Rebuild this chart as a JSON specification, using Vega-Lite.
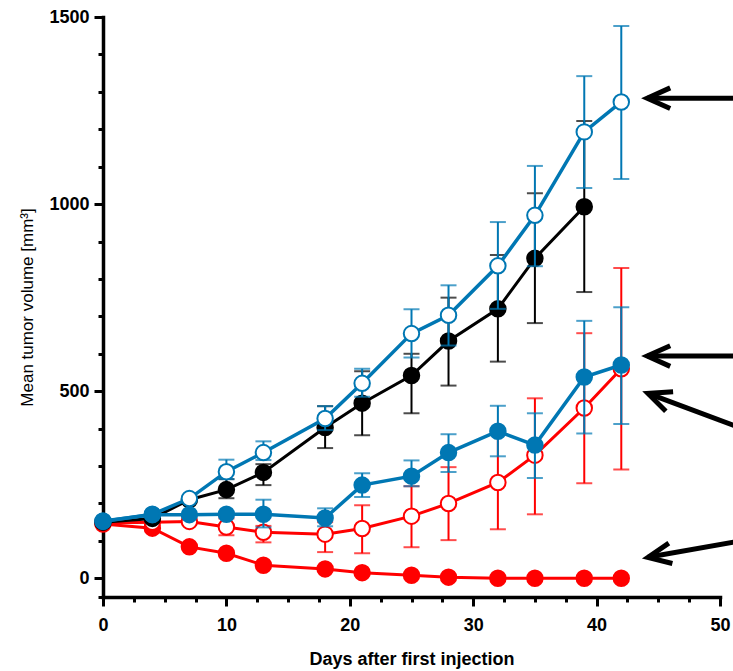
{
  "$schema": "https://vega.github.io/schema/vega-lite/v6.json",
  "width": 617,
  "height": 580,
  "autosize": {"type": "none"},
  "padding": {"left": 103, "top": 17, "right": 13, "bottom": 74},
  "config": {
    "view": {"stroke": null},
    "font": "Liberation Sans",
    "axis": {"grid": false, "domainColor": "black", "tickColor": "black", "labelColor": "black", "titleColor": "black", "labelFont": "Liberation Sans", "titleFont": "Liberation Sans"}
  },
  "datasets": {
    "d": [
      {"s": "RF", "day": 0, "mean": 145},
      {"s": "RF", "day": 4, "mean": 134},
      {"s": "RF", "day": 7, "mean": 84},
      {"s": "RF", "day": 10, "mean": 67},
      {"s": "RF", "day": 13, "mean": 35},
      {"s": "RF", "day": 18, "mean": 25},
      {"s": "RF", "day": 21, "mean": 15},
      {"s": "RF", "day": 25, "mean": 8},
      {"s": "RF", "day": 28, "mean": 3},
      {"s": "RF", "day": 32, "mean": 0},
      {"s": "RF", "day": 35, "mean": 0},
      {"s": "RF", "day": 39, "mean": 0},
      {"s": "RF", "day": 42, "mean": 0},
      {"s": "RO", "day": 0, "mean": 148},
      {"s": "RO", "day": 4, "mean": 150},
      {"s": "RO", "day": 7, "mean": 152},
      {"s": "RO", "day": 10, "mean": 137, "lo": 115, "hi": 160},
      {"s": "RO", "day": 13, "mean": 123, "lo": 96, "hi": 140},
      {"s": "RO", "day": 18, "mean": 118, "lo": 70, "hi": 150},
      {"s": "RO", "day": 21, "mean": 133, "lo": 67, "hi": 195},
      {"s": "RO", "day": 25, "mean": 166, "lo": 83, "hi": 246},
      {"s": "RO", "day": 28, "mean": 200, "lo": 102, "hi": 297},
      {"s": "RO", "day": 32, "mean": 256, "lo": 131, "hi": 385},
      {"s": "RO", "day": 35, "mean": 329, "lo": 171, "hi": 481},
      {"s": "RO", "day": 39, "mean": 455, "lo": 254, "hi": 655},
      {"s": "RO", "day": 42, "mean": 560, "lo": 291, "hi": 829},
      {"s": "K", "day": 0, "mean": 150},
      {"s": "K", "day": 4, "mean": 160},
      {"s": "K", "day": 7, "mean": 210},
      {"s": "K", "day": 10, "mean": 237, "lo": 214, "hi": 265},
      {"s": "K", "day": 13, "mean": 283, "lo": 249, "hi": 305},
      {"s": "K", "day": 18, "mean": 403, "lo": 348, "hi": 460},
      {"s": "K", "day": 21, "mean": 468, "lo": 382, "hi": 553},
      {"s": "K", "day": 25, "mean": 542, "lo": 441, "hi": 600},
      {"s": "K", "day": 28, "mean": 634, "lo": 515, "hi": 750},
      {"s": "K", "day": 32, "mean": 720, "lo": 579, "hi": 864},
      {"s": "K", "day": 35, "mean": 855, "lo": 682, "hi": 1029},
      {"s": "K", "day": 39, "mean": 993, "lo": 765, "hi": 1222},
      {"s": "BO", "day": 0, "mean": 152},
      {"s": "BO", "day": 4, "mean": 171},
      {"s": "BO", "day": 7, "mean": 213},
      {"s": "BO", "day": 10, "mean": 285, "lo": 265, "hi": 317},
      {"s": "BO", "day": 13, "mean": 336, "lo": 316, "hi": 366},
      {"s": "BO", "day": 18, "mean": 427, "lo": 396, "hi": 460},
      {"s": "BO", "day": 21, "mean": 521, "lo": 485, "hi": 560},
      {"s": "BO", "day": 25, "mean": 654, "lo": 590, "hi": 719},
      {"s": "BO", "day": 28, "mean": 703, "lo": 622, "hi": 783},
      {"s": "BO", "day": 32, "mean": 835, "lo": 720, "hi": 952},
      {"s": "BO", "day": 35, "mean": 970, "lo": 834, "hi": 1102},
      {"s": "BO", "day": 39, "mean": 1193, "lo": 1043, "hi": 1342},
      {"s": "BO", "day": 42, "mean": 1273, "lo": 1067, "hi": 1476},
      {"s": "BF", "day": 0, "mean": 153},
      {"s": "BF", "day": 4, "mean": 170},
      {"s": "BF", "day": 7, "mean": 170},
      {"s": "BF", "day": 10, "mean": 171},
      {"s": "BF", "day": 13, "mean": 171, "lo": 136, "hi": 210},
      {"s": "BF", "day": 18, "mean": 161, "lo": 139, "hi": 187},
      {"s": "BF", "day": 21, "mean": 249, "lo": 217, "hi": 281},
      {"s": "BF", "day": 25, "mean": 273, "lo": 246, "hi": 315},
      {"s": "BF", "day": 28, "mean": 336, "lo": 284, "hi": 385},
      {"s": "BF", "day": 32, "mean": 393, "lo": 326, "hi": 461},
      {"s": "BF", "day": 35, "mean": 356, "lo": 268, "hi": 441},
      {"s": "BF", "day": 39, "mean": 538, "lo": 387, "hi": 688},
      {"s": "BF", "day": 42, "mean": 570, "lo": 412, "hi": 724}
    ],
    "arrows": [
      {"id": "a1", "x": 44.1, "y": 1283, "x2": 51.5, "y2": 1283},
      {"id": "a2", "x": 44.1, "y": 594, "x2": 51.5, "y2": 594},
      {"id": "a3", "x": 44.16, "y": 494, "x2": 51.5, "y2": 404},
      {"id": "a4", "x": 44.16, "y": 56, "x2": 51.5, "y2": 99}
    ]
  },
  "resolve": {"axis": {"x": "independent", "y": "independent"}},
  "layer": [
    {
      "data": {"name": "d"},
      "mark": {"type": "point", "opacity": 0},
      "encoding": {
        "x": {"field": "day", "type": "quantitative", "scale": {"domain": [0, 50], "nice": false, "zero": false},
          "axis": {"orient": "bottom", "values": [0, 2.5, 5, 7.5, 10, 12.5, 15, 17.5, 20, 22.5, 25, 27.5, 30, 32.5, 35, 37.5, 40, 42.5, 45, 47.5, 50],
            "labelExpr": "datum.value % 10 === 0 ? format(datum.value, 'd') : ''",
            "labelOverlap": false, "labelFlush": false,
            "tickSize": {"condition": {"test": "datum.value % 10 === 0", "value": 9}, "value": 5},
            "tickWidth": 3, "domainWidth": 3.5, "domainCap": "square",
            "labelFontSize": 18, "labelFontWeight": "bold", "labelPadding": 10,
            "title": "Days after first injection", "titleFontSize": 18, "titleFontWeight": "bold", "titlePadding": 16}},
        "y": {"field": "mean", "type": "quantitative", "scale": {"domain": [-50, 1500], "nice": false, "zero": false},
          "axis": {"orient": "left", "values": [-50, 0, 100, 200, 300, 400, 500, 600, 700, 800, 900, 1000, 1100, 1200, 1300, 1400, 1500],
            "labelExpr": "datum.value % 500 === 0 ? format(datum.value, 'd') : ''",
            "labelOverlap": false, "labelFlush": false,
            "tickSize": {"condition": {"test": "datum.value % 500 === 0", "value": 9}, "value": 5},
            "tickWidth": 3, "domainWidth": 3.5, "domainCap": "square",
            "labelFontSize": 18, "labelFontWeight": "bold", "labelPadding": 5,
            "title": "Mean tumor volume [mm³]", "titleFontSize": 17, "titleFontWeight": "normal", "titlePadding": 12}}
      }
    },
    {"data": {"name": "d"}, "transform": [{"filter": "datum.s === 'RF'"}],
     "mark": {"type": "line", "color": "#ff0000", "strokeWidth": 3},
     "encoding": {"x": {"field": "day", "type": "quantitative", "axis": null}, "y": {"field": "mean", "type": "quantitative", "axis": null}}},
    {"data": {"name": "d"}, "transform": [{"filter": "datum.s === 'RF'"}],
     "mark": {"type": "point", "filled": true, "size": 240, "color": "#ff0000", "stroke": "#ff0000", "strokeWidth": 2, "opacity": 1},
     "encoding": {"x": {"field": "day", "type": "quantitative", "axis": null}, "y": {"field": "mean", "type": "quantitative", "axis": null}}},

    {"data": {"name": "d"}, "transform": [{"filter": "datum.s === 'RO' && isValid(datum.lo)"}],
     "mark": {"type": "errorbar", "color": "#ff0000", "ticks": {"size": 16, "thickness": 2}, "rule": {"strokeWidth": 2}},
     "encoding": {"x": {"field": "day", "type": "quantitative", "axis": null}, "y": {"field": "lo", "type": "quantitative", "axis": null}, "y2": {"field": "hi"}}},
    {"data": {"name": "d"}, "transform": [{"filter": "datum.s === 'RO'"}],
     "mark": {"type": "line", "color": "#ff0000", "strokeWidth": 3},
     "encoding": {"x": {"field": "day", "type": "quantitative", "axis": null}, "y": {"field": "mean", "type": "quantitative", "axis": null}}},
    {"data": {"name": "d"}, "transform": [{"filter": "datum.s === 'RO'"}],
     "mark": {"type": "point", "filled": true, "size": 240, "fill": "white", "stroke": "#ff0000", "strokeWidth": 2, "opacity": 1},
     "encoding": {"x": {"field": "day", "type": "quantitative", "axis": null}, "y": {"field": "mean", "type": "quantitative", "axis": null}}},

    {"data": {"name": "d"}, "transform": [{"filter": "datum.s === 'K' && isValid(datum.lo)"}],
     "mark": {"type": "errorbar", "color": "#000000", "ticks": {"size": 16, "thickness": 2}, "rule": {"strokeWidth": 2}},
     "encoding": {"x": {"field": "day", "type": "quantitative", "axis": null}, "y": {"field": "lo", "type": "quantitative", "axis": null}, "y2": {"field": "hi"}}},
    {"data": {"name": "d"}, "transform": [{"filter": "datum.s === 'K'"}],
     "mark": {"type": "line", "color": "#000000", "strokeWidth": 3},
     "encoding": {"x": {"field": "day", "type": "quantitative", "axis": null}, "y": {"field": "mean", "type": "quantitative", "axis": null}}},
    {"data": {"name": "d"}, "transform": [{"filter": "datum.s === 'K'"}],
     "mark": {"type": "point", "filled": true, "size": 240, "color": "#000000", "stroke": "#000000", "strokeWidth": 2, "opacity": 1},
     "encoding": {"x": {"field": "day", "type": "quantitative", "axis": null}, "y": {"field": "mean", "type": "quantitative", "axis": null}}},

    {"data": {"name": "d"}, "transform": [{"filter": "datum.s === 'BO' && isValid(datum.lo)"}],
     "mark": {"type": "errorbar", "color": "#0077b3", "ticks": {"size": 16, "thickness": 2}, "rule": {"strokeWidth": 2}},
     "encoding": {"x": {"field": "day", "type": "quantitative", "axis": null}, "y": {"field": "lo", "type": "quantitative", "axis": null}, "y2": {"field": "hi"}}},
    {"data": {"name": "d"}, "transform": [{"filter": "datum.s === 'BO'"}],
     "mark": {"type": "line", "color": "#0077b3", "strokeWidth": 3.5},
     "encoding": {"x": {"field": "day", "type": "quantitative", "axis": null}, "y": {"field": "mean", "type": "quantitative", "axis": null}}},
    {"data": {"name": "d"}, "transform": [{"filter": "datum.s === 'BO'"}],
     "mark": {"type": "point", "filled": true, "size": 240, "fill": "white", "stroke": "#0077b3", "strokeWidth": 2, "opacity": 1},
     "encoding": {"x": {"field": "day", "type": "quantitative", "axis": null}, "y": {"field": "mean", "type": "quantitative", "axis": null}}},

    {"data": {"name": "d"}, "transform": [{"filter": "datum.s === 'BF' && isValid(datum.lo)"}],
     "mark": {"type": "errorbar", "color": "#0077b3", "ticks": {"size": 16, "thickness": 2}, "rule": {"strokeWidth": 2}},
     "encoding": {"x": {"field": "day", "type": "quantitative", "axis": null}, "y": {"field": "lo", "type": "quantitative", "axis": null}, "y2": {"field": "hi"}}},
    {"data": {"name": "d"}, "transform": [{"filter": "datum.s === 'BF'"}],
     "mark": {"type": "line", "color": "#0077b3", "strokeWidth": 3.5},
     "encoding": {"x": {"field": "day", "type": "quantitative", "axis": null}, "y": {"field": "mean", "type": "quantitative", "axis": null}}},
    {"data": {"name": "d"}, "transform": [{"filter": "datum.s === 'BF'"}],
     "mark": {"type": "point", "filled": true, "size": 240, "color": "#0077b3", "stroke": "#0077b3", "strokeWidth": 2, "opacity": 1},
     "encoding": {"x": {"field": "day", "type": "quantitative", "axis": null}, "y": {"field": "mean", "type": "quantitative", "axis": null}}},

    {"data": {"name": "arrows"},
     "mark": {"type": "rule", "color": "black", "strokeWidth": 5},
     "encoding": {"x": {"field": "x", "type": "quantitative", "axis": null}, "y": {"field": "y", "type": "quantitative", "axis": null}, "x2": {"field": "x2"}, "y2": {"field": "y2"}}},
    {"data": {"name": "arrows"}, "transform": [{"filter": "datum.id === 'a1' || datum.id === 'a2'"}],
     "mark": {"type": "point", "shape": "M1,-0.45L0,0L1,0.45", "size": 2116, "filled": false, "color": "black", "strokeWidth": 5, "opacity": 1, "strokeJoin": "miter"},
     "encoding": {"x": {"field": "x", "type": "quantitative", "axis": null}, "y": {"field": "y", "type": "quantitative", "axis": null}}},
    {"data": {"name": "arrows"}, "transform": [{"filter": "datum.id === 'a3'"}],
     "mark": {"type": "point", "shape": "M1,-0.45L0,0L1,0.45", "size": 2116, "angle": 20.6, "filled": false, "color": "black", "strokeWidth": 5, "opacity": 1, "strokeJoin": "miter"},
     "encoding": {"x": {"field": "x", "type": "quantitative", "axis": null}, "y": {"field": "y", "type": "quantitative", "axis": null}}},
    {"data": {"name": "arrows"}, "transform": [{"filter": "datum.id === 'a4'"}],
     "mark": {"type": "point", "shape": "M1,-0.45L0,0L1,0.45", "size": 2116, "angle": -10, "filled": false, "color": "black", "strokeWidth": 5, "opacity": 1, "strokeJoin": "miter"},
     "encoding": {"x": {"field": "x", "type": "quantitative", "axis": null}, "y": {"field": "y", "type": "quantitative", "axis": null}}}
  ]
}
